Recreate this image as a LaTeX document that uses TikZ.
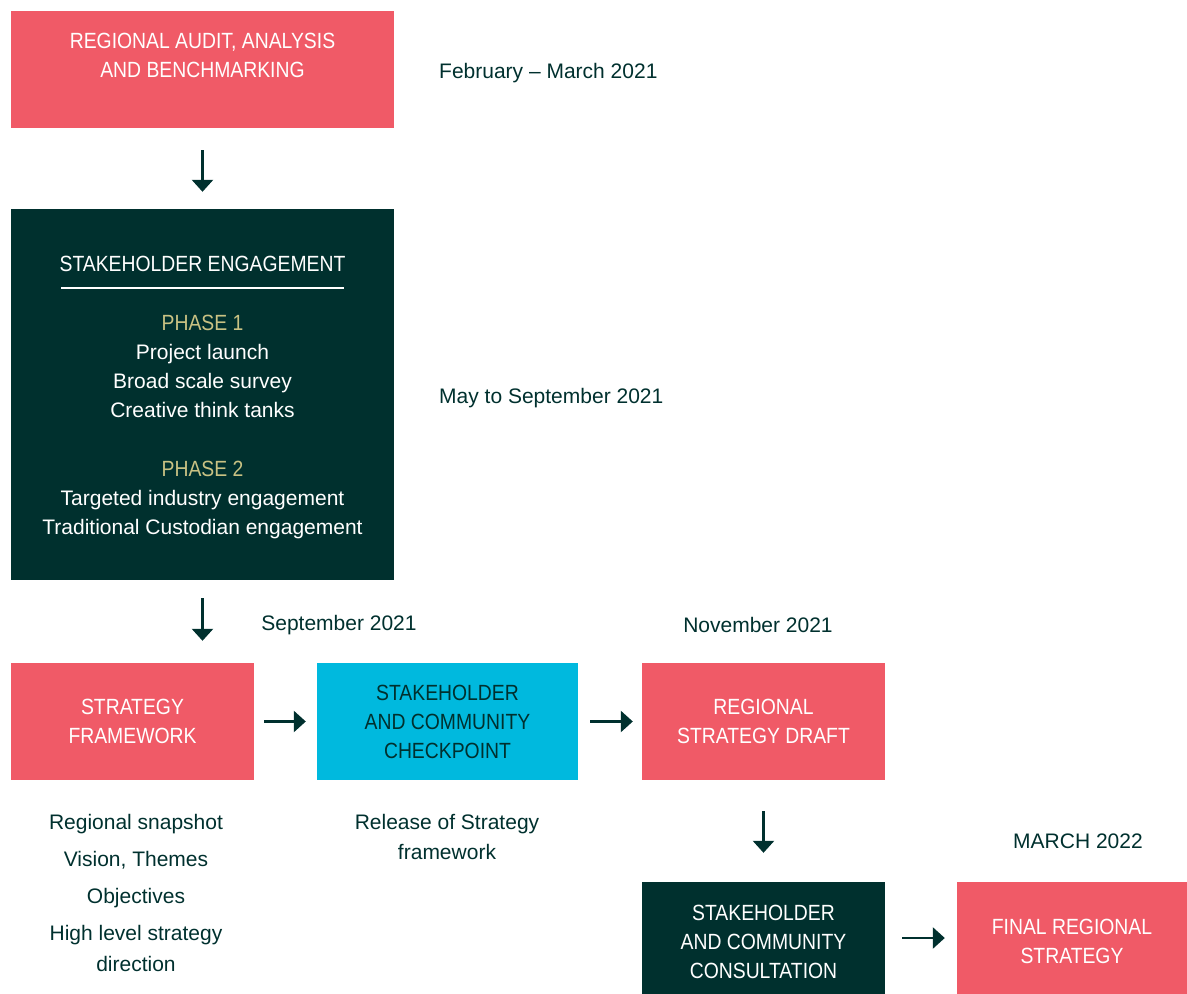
\documentclass[tikz,border=0pt]{standalone}
\usepackage{fontspec}
\setmainfont{Liberation Sans}
\newfontfamily\capsf[FakeStretch=0.88]{Liberation Sans}
\usetikzlibrary{arrows.meta}
\definecolor{pinkc}{HTML}{F05A67}
\definecolor{darkc}{HTML}{00302E}
\definecolor{cyanc}{HTML}{00B9DE}
\definecolor{goldc}{HTML}{C9C283}
\tikzset{
  box/.style={draw=none, minimum width=#1, inner sep=0pt, align=center,
    font=\capsf\fontsize{22}{29}\selectfont},
  pinkbox/.style={box=#1, fill=pinkc, text=white},
  darkbox/.style={box=#1, fill=darkc, text=white},
  cyanbox/.style={box=#1, fill=cyanc, text=darkc},
  lbl/.style={inner sep=0pt, text=darkc, font=\fontsize{21}{29}\selectfont, align=center},
  inlbl/.style={inner sep=0pt, text=white, font=\fontsize{21}{29}\selectfont, align=center},
  capl/.style={inner sep=0pt, align=center, font=\capsf\fontsize{22}{29}\selectfont},
  arr/.style={draw=darkc, line width=2.6pt, -{Triangle[width=21pt,length=12pt]}},
}
\begin{document}
\begin{tikzpicture}[x=1pt,y=-1pt]
\useasboundingbox (0,0) rectangle (1187,994);
% boxes
\node[pinkbox=383pt, minimum height=117pt] (b1) at (202.5,69.5) {};
\node[capl, text=white] (t1) at (202.5,55.5) {REGIONAL AUDIT, ANALYSIS\\AND BENCHMARKING};
\node[darkbox=383pt, minimum height=371pt] (b2) at (202.5,394.5) {};
\node[pinkbox=243pt, minimum height=117pt] (b3) at (132.5,721.5) {STRATEGY\\FRAMEWORK};
\node[cyanbox=261pt, minimum height=117pt] (b4) at (447.5,721.5) {STAKEHOLDER\\AND COMMUNITY\\CHECKPOINT};
\node[pinkbox=243pt, minimum height=117pt] (b5) at (763.5,721.5) {REGIONAL\\STRATEGY DRAFT};
\node[darkbox=243pt, minimum height=112pt] (b6) at (763.5,938) {};
\node[capl, text=white] (t6) at (763.5,941.5) {STAKEHOLDER\\AND COMMUNITY\\CONSULTATION};
\node[pinkbox=230pt, minimum height=112pt] (b7) at (1072,938) {};
\node[capl, text=white] (t7) at (1072,941.5) {FINAL REGIONAL\\STRATEGY};
% inside stakeholder engagement
\node[capl, text=white] (se) at (202.5,264) {STAKEHOLDER ENGAGEMENT};
\coordinate (ulL) at (61,288);
\coordinate (ulR) at (344,288);
\draw[white, line width=2.6pt] (ulL) -- (ulR);
\node[capl, text=goldc] (p1) at (202.5,323) {PHASE 1};
\node[inlbl, anchor=north] (p1t) at (202.5,344) {Project launch\\Broad scale survey\\Creative think tanks};
\node[capl, text=goldc] (p2) at (202.5,469) {PHASE 2};
\node[inlbl, anchor=north] (p2t) at (202.5,490) {Targeted industry engagement\\Traditional Custodian engagement};
% dates
\node[lbl, anchor=west] (d1) at (439,73) {February -- March 2021};
\node[lbl, anchor=west] (d2) at (439,398) {May to September 2021};
\node[lbl] (d3) at (339,625) {September 2021};
\node[lbl] (d4) at (758,625) {November 2021};
\node[lbl] (d5) at (1078,841) {MARCH 2022};
% notes
\node[lbl, anchor=north, font=\fontsize{21}{37}\selectfont] (n1) at (136,814) {Regional snapshot\\Vision, Themes\\Objectives\\High level strategy};
\node[lbl] (n1b) at (136,964) {direction};
\node[lbl, anchor=north, font=\fontsize{21}{30}\selectfont] (n2) at (447,814) {Release of Strategy\\framework};
% arrows
\draw[arr, shorten <=22pt, shorten >=17pt] (b1) -- (b2);
\draw[arr, shorten <=18pt, shorten >=22pt] (b2.south) -- (b2.south |- b3.north);
\draw[arr, shorten <=10pt, shorten >=11pt] (b3) -- (b4);
\draw[arr, shorten <=12pt, shorten >=9pt] (b4) -- (b5);
\draw[arr, shorten <=31pt, shorten >=29pt] (b5) -- (b6);
\draw[arr, shorten <=17pt, shorten >=12pt] (b6) -- (b7);
\end{tikzpicture}
\end{document}
